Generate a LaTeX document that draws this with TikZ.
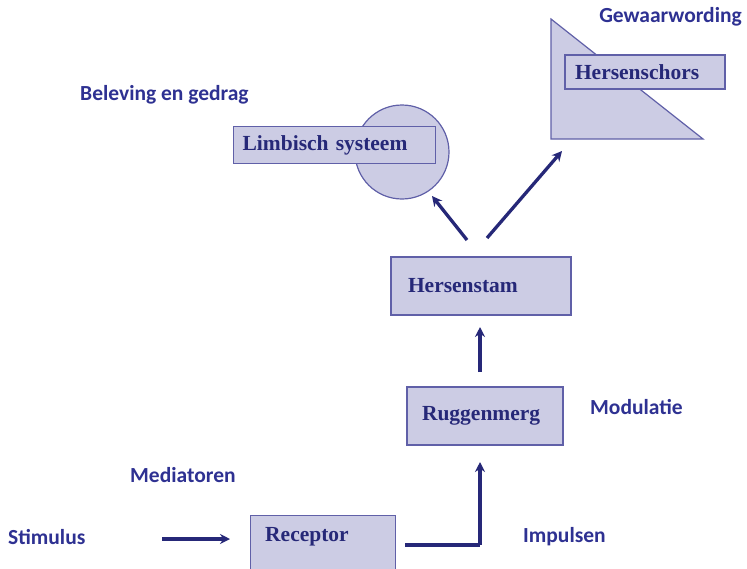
\documentclass[tikz,border=0pt]{standalone}
\usepackage{fontspec}
\setmainfont{Liberation Serif}
\newfontfamily\lblfont{Carlito}
\usetikzlibrary{arrows.meta}
\definecolor{boxfill}{RGB}{204,204,228}
\definecolor{boxline}{RGB}{96,96,168}
\definecolor{navy}{RGB}{38,40,120}
\definecolor{lblcol}{RGB}{46,49,146}
\tikzset{
  box/.style={draw=boxline, line width=1.2pt, fill=boxfill, text=navy,
    font=\fontsize{21.5}{22}\selectfont\bfseries, align=left, inner ysep=0pt},
  lbl/.style={text=lblcol, font=\lblfont\fontsize{21.5}{22}\selectfont\bfseries, inner sep=0pt},
  arr/.style={draw=navy, line width=3.3pt, -{Stealth[length=10pt,width=10pt]}},
  plain/.style={draw=navy, line width=3.3pt}
}
\begin{document}
\begin{tikzpicture}[x=1pt,y=-1pt]
\useasboundingbox[fill=white] (0,0) rectangle (747,568);
% Hersenschors triangle
\draw[boxline, fill=boxfill, line width=1.2pt] (551,19) -- (703,139) -- (551,139) -- cycle;
\node[box, minimum width=160pt, minimum height=34pt, text width=140pt, inner xsep=10pt] (schors) at (645,72) {Hersenschors};
\node[lbl, anchor=east] (gew) at (742,17) {Gewaarwording};
% Limbisch
\draw[boxline, fill=boxfill, line width=1.2pt] (402,152) circle (47);
\node[box, minimum width=202pt, minimum height=37pt, text width=184pt, inner xsep=9pt, anchor=west] (limb) at (233,145) {Limbisch systeem};
\node[lbl, anchor=west] (bel) at (80,95) {Beleving en gedrag};
% Hersenstam
\node[box, minimum width=180pt, minimum height=58pt, text width=146pt, inner xsep=17pt] (stam) at (481,286) {Hersenstam};
% Ruggenmerg
\node[box, minimum width=156pt, minimum height=58pt, text width=126pt, inner xsep=15pt] (rugg) at (485,416) {Ruggenmerg};
\node[lbl, anchor=west] (mod) at (590,407) {Modulatie};
% Receptor
\node[box, minimum width=145pt, minimum height=62pt, anchor=north west] (rec) at (250,515) {};
\node[text=navy, font=\fontsize{21.5}{22}\selectfont\bfseries, inner sep=0pt, anchor=west] (rectxt) at (265,537) {Receptor};
\node[lbl, anchor=west] (stim) at (8,537) {Stimulus};
\node[lbl, anchor=west] (med) at (130,475) {Mediatoren};
\node[lbl, anchor=west] (imp) at (523,537) {Impulsen};
% connectors
\coordinate (s1) at (162,539);
\coordinate (s2) at (230,539);
\draw[arr] (s1) -- (s2);
\coordinate (r1) at (405,545);
\coordinate (r2) at (480,545);
\coordinate (r3) at (480,462);
\draw[plain] (r1) -- (r2);
\draw[arr] (r2) -- (r3);
\coordinate (u1) at (480,372);
\coordinate (u2) at (480,327);
\draw[arr] (u1) -- (u2);
\coordinate (a1) at (467,240);
\coordinate (a2) at (432,196);
\draw[arr] (a1) -- (a2);
\coordinate (b1) at (487,238);
\coordinate (b2) at (562,151);
\draw[arr] (b1) -- (b2);
\end{tikzpicture}
\end{document}
